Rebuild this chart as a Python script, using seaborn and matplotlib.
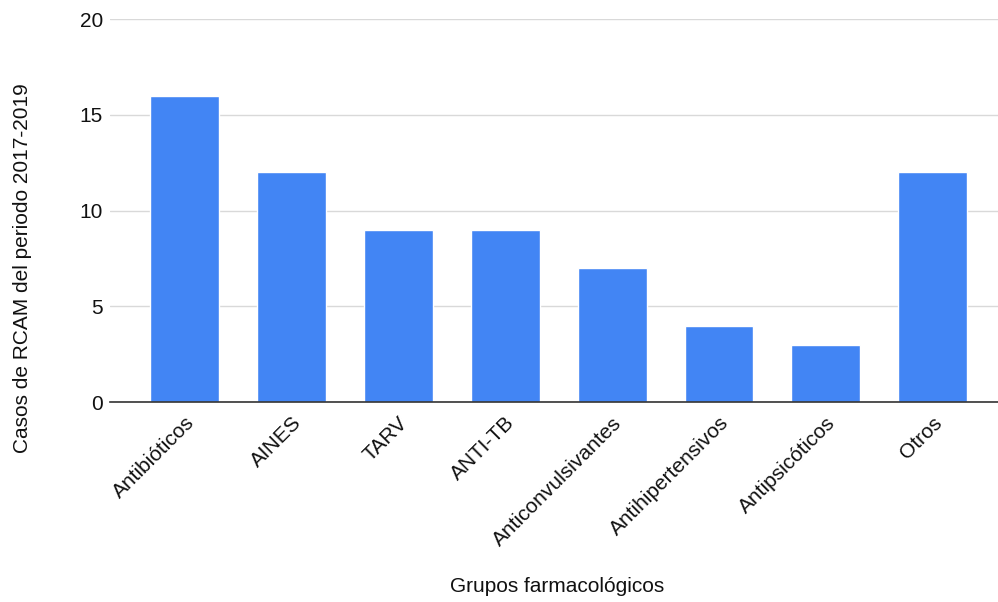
import matplotlib
matplotlib.use("Agg")
import matplotlib.pyplot as plt
import seaborn as sns
import pandas as pd

categorias = ["Antibióticos", "AINES", "TARV", "ANTI-TB", "Anticonvulsivantes",
              "Antihipertensivos", "Antipsicóticos", "Otros"]
casos = [16, 12, 9, 9, 7, 4, 3, 12]
ticks_y = [0, 5, 10, 15, 20]

sns.set_style("white")
plt.rcParams["font.family"] = ["Liberation Sans", "DejaVu Sans"]

df = pd.DataFrame({"grupo": categorias, "casos": casos})

fig = plt.figure(figsize=(9.98, 6.02), dpi=100)
ax = fig.add_axes([0.110, 0.332, 0.890, 0.636])

sns.barplot(data=df, x="grupo", y="casos", color="#4285F4", saturation=1,
            width=0.645, ax=ax, zorder=3)

ax.set_ylim(0, 20)
ax.set_xlim(-0.70, 7.61)
ax.set_yticks(ticks_y)
ax.yaxis.grid(True, color="#d9d9d9", linewidth=1, zorder=0)
ax.set_axisbelow(True)
for s in ["top", "right", "left"]:
    ax.spines[s].set_visible(False)
ax.spines["bottom"].set_color("#333333")
ax.spines["bottom"].set_linewidth(1.2)
ax.spines["bottom"].set_zorder(4)

ax.tick_params(axis="both", length=0, labelsize=15, colors="#111111")
ax.tick_params(axis="y", pad=5)
ax.tick_params(axis="x", pad=8)
plt.setp(ax.get_xticklabels(), rotation=45, ha="right", rotation_mode="anchor")

ax.set_xlabel("Grupos farmacológicos", fontsize=15, color="#111111")
ax.set_ylabel("Casos de RCAM del periodo 2017-2019", fontsize=15, color="#111111")
ax.xaxis.set_label_coords((557 - 110) / 888, (402 - 577) / 383)
ax.yaxis.set_label_coords((32 - 110) / 888, (402 - 268) / 383)

fig.savefig("out.png", dpi=100)
